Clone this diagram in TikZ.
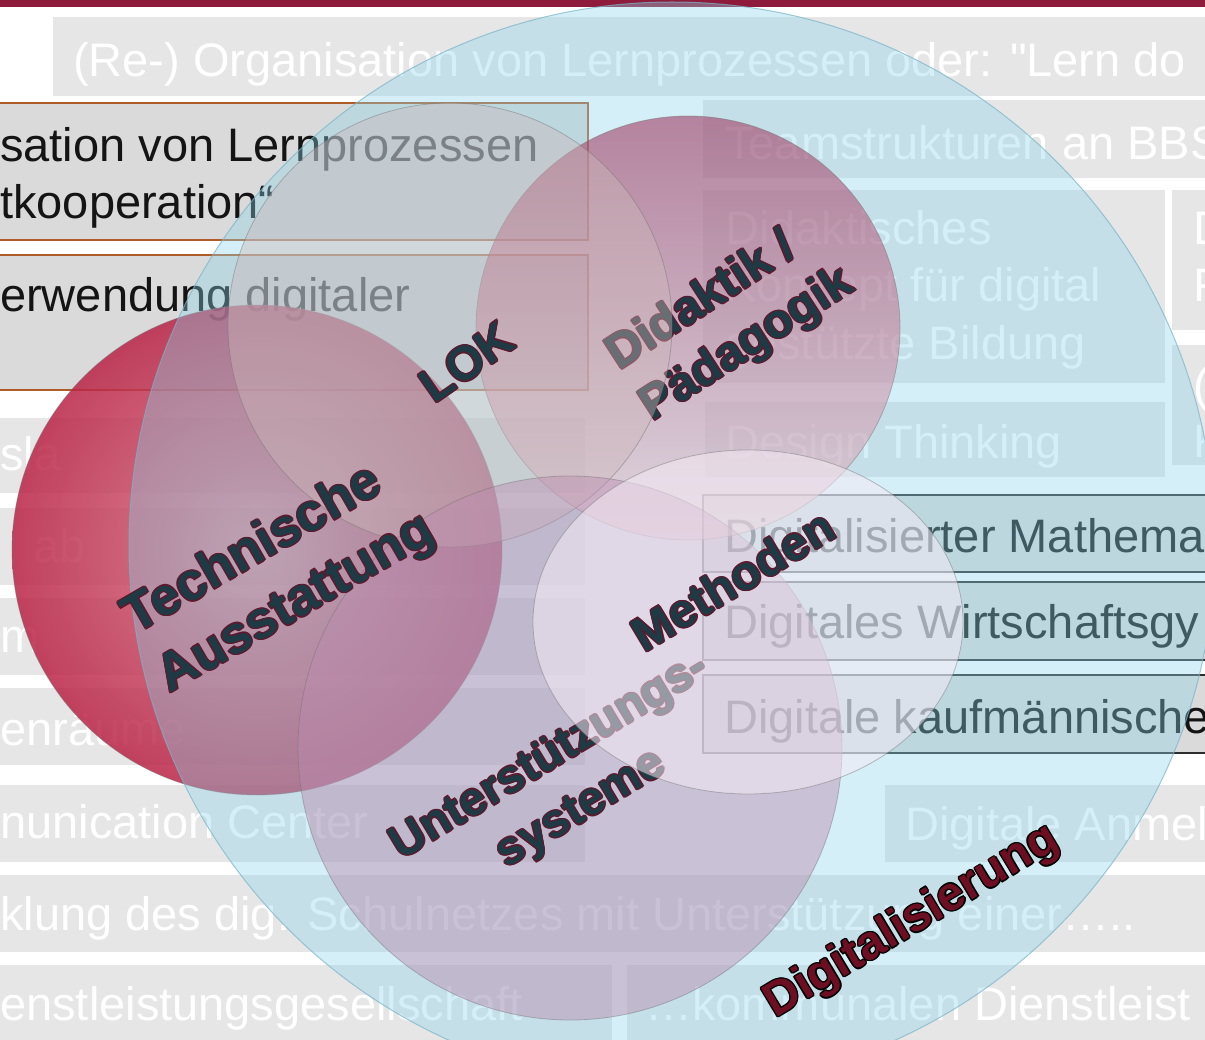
\documentclass[tikz,border=0pt]{standalone}
\usepackage{fontspec}
\setmainfont{Liberation Sans}[Ligatures=TeXOff]
\usetikzlibrary{calc}
\definecolor{bar}{RGB}{142,27,59}
\definecolor{boxg}{RGB}{230,230,230}
\definecolor{boxd}{RGB}{218,218,218}
\definecolor{obord}{RGB}{176,92,40}
\definecolor{kbord}{RGB}{45,45,45}
\definecolor{bluec}{RGB}{140,212,234}
\definecolor{bluee}{RGB}{120,180,200}
\definecolor{redin}{RGB}{218,118,136}
\definecolor{redout}{RGB}{186,36,70}
\definecolor{didtop}{RGB}{160,60,100}
\definecolor{didbot}{RGB}{230,198,208}
\definecolor{lokc}{RGB}{205,185,185}
\definecolor{untc}{RGB}{188,140,176}
\definecolor{methc}{RGB}{245,235,245}
\definecolor{lbl}{RGB}{30,58,68}
\definecolor{lblo}{RGB}{92,26,46}
\definecolor{digc}{RGB}{110,14,34}
\tikzset{
 gbox/.style={fill=boxg, draw=none},
 obox/.style={fill=boxd, draw=obord, line width=1.5pt},
 kbox/.style={fill=boxd, draw=kbord, line width=1.5pt},
 wtxt/.style={text=white, font=\fontsize{47}{57}\selectfont, anchor=base west, inner sep=0},
 btxt/.style={wtxt, text=black!92},
 lab/.style={inner sep=0},
 bedge/.style={draw=black!55, line width=0.8pt, draw opacity=0.45},
}
\newcommand\olabel[6]{%
  \foreach \k in {0,45,...,315}{\node[lab, #3, text=#6] (#1-\k) at ($#2+(\k:1.4)$) {#4};}
  \node[lab, #3, text=#5] (#1) at #2 {#4};}
\begin{document}
\begin{tikzpicture}[x=1pt,y=-1pt]
\path[use as bounding box, clip] (0,0) rectangle (1205,1040);
\fill[white] (0,0) rectangle (1205,1040);
\fill[bar] (0,0) rectangle (1205,7);
% background boxes
\fill[gbox] (53,17) rectangle (1210,96);
\node[wtxt] (t1) at (73,77) {(Re-) Organisation von Lernprozessen oder: "Lern do};
\draw[obox] (-5,103) rectangle (588,240);
\node[btxt] (t2a) at (0,162) {sation von Lernprozessen};
\node[btxt] (t2b) at (0,219) {tkooperation“};
\draw[obox] (-5,255) rectangle (588,390);
\node[btxt] (t3) at (0,312) {erwendung digitaler};
\fill[gbox] (703,100) rectangle (1210,178);
\node[wtxt] (t4) at (725,160) {Teamstrukturen an BBS};
\fill[gbox] (703,190) rectangle (1165,383);
\node[wtxt] (t5a) at (725,245) {Didaktisches};
\node[wtxt] (t5b) at (725,302) {Konzept für digital};
\node[wtxt] (t5c) at (725,360) {gestützte Bildung};
\fill[gbox] (1172,190) rectangle (1210,330);
\node[wtxt] (t6a) at (1193,245) {D};
\node[wtxt] (t6b) at (1193,302) {F};
\fill[gbox] (1172,345) rectangle (1210,465);
\node[wtxt] (t7a) at (1193,402) {(};
\node[wtxt] (t7b) at (1193,457) {K};
\fill[gbox] (705,402) rectangle (1165,477);
\node[wtxt] (t8) at (725,458) {Design Thinking};
\draw[kbox] (703,495) rectangle (1215,572);
\node[btxt] (t9) at (724,552) {Digitalisierter Mathema};
\draw[kbox] (703,582) rectangle (1215,660);
\node[btxt] (t10) at (724,638) {Digitales Wirtschaftsgy};
\draw[kbox] (703,675) rectangle (1215,753);
\node[btxt] (t11) at (724,733) {Digitale kaufmännische};
\fill[gbox] (-5,418) rectangle (585,493);
\node[wtxt] (t12) at (0,470) {sla};
\fill[gbox] (-5,508) rectangle (585,585);
\node[wtxt] (t13) at (33,562) {ab};
\fill[gbox] (-5,598) rectangle (585,675);
\node[wtxt] (t14) at (0,652) {m};
\fill[gbox] (-5,688) rectangle (585,765);
\node[wtxt] (t15) at (0,745) {enräume};
\fill[gbox] (-5,785) rectangle (585,862);
\node[wtxt] (t16) at (0,838) {nunication Center};
\fill[gbox] (885,785) rectangle (1210,862);
\node[wtxt] (t17) at (905,840) {Digitale Anmel};
\fill[gbox] (-5,875) rectangle (1210,952);
\node[wtxt] (t18) at (0,930) {klung des dig. Schulnetzes mit Unterstützung einer…..};
\fill[gbox] (-5,965) rectangle (612,1045);
\node[wtxt] (t19) at (0,1020) {enstleistungsgesellschaft};
\fill[gbox] (627,965) rectangle (1210,1045);
\node[wtxt] (t20) at (645,1020) {…kommunalen Dienstleist};
% circles
\shade[inner color=redin, outer color=redout, opacity=0.85] (257,550) circle (245);
\draw[bedge] (257,550) circle (245);
\fill[bluec, fill opacity=0.37] (672,545) circle (543);
\draw[bluee, line width=1pt, draw opacity=0.7] (672,545) circle (543);
\shade[top color=didtop, bottom color=didbot, opacity=0.6] (688,328) circle (212);
\draw[bedge] (688,328) circle (212);
\olabel{lblDid}{(731,320)}{rotate=33, align=left, font=\fontsize{48}{61}\selectfont\bfseries}{Didaktik /\\Pädagogik}{lbl}{lblo}
\fill[lokc, fill opacity=0.42] (450,325) circle (222);
\draw[bedge] (450,325) circle (222);
\olabel{lblLOK}{(467,362)}{rotate=35, font=\fontsize{48}{60}\selectfont\bfseries}{LOK}{lbl}{lblo}
\fill[untc, fill opacity=0.45] (570,748) circle (272);
\draw[bedge] (570,748) circle (272);
\olabel{lblUnt}{(566,784)}{rotate=31, align=center, font=\fontsize{47}{61}\selectfont\bfseries}{Unterstützungs-\\systeme}{lbl}{lblo}
\fill[methc, fill opacity=0.55] (748,622) ellipse [x radius=215, y radius=172];
\draw[bedge] (748,622) ellipse [x radius=215, y radius=172];
\olabel{lblMeth}{(733,580)}{rotate=31, font=\fontsize{48}{60}\selectfont\bfseries}{Methoden}{lbl}{lblo}
\olabel{lblTech}{(280,575)}{rotate=30, align=left, font=\fontsize{53}{68}\selectfont\bfseries}{Technische\\Ausstattung}{lbl}{lblo}
\olabel{lblDig}{(912,922)}{rotate=31, font=\fontsize{48}{60}\selectfont\bfseries}{Digitalisierung}{digc}{black}
\end{tikzpicture}
\end{document}
